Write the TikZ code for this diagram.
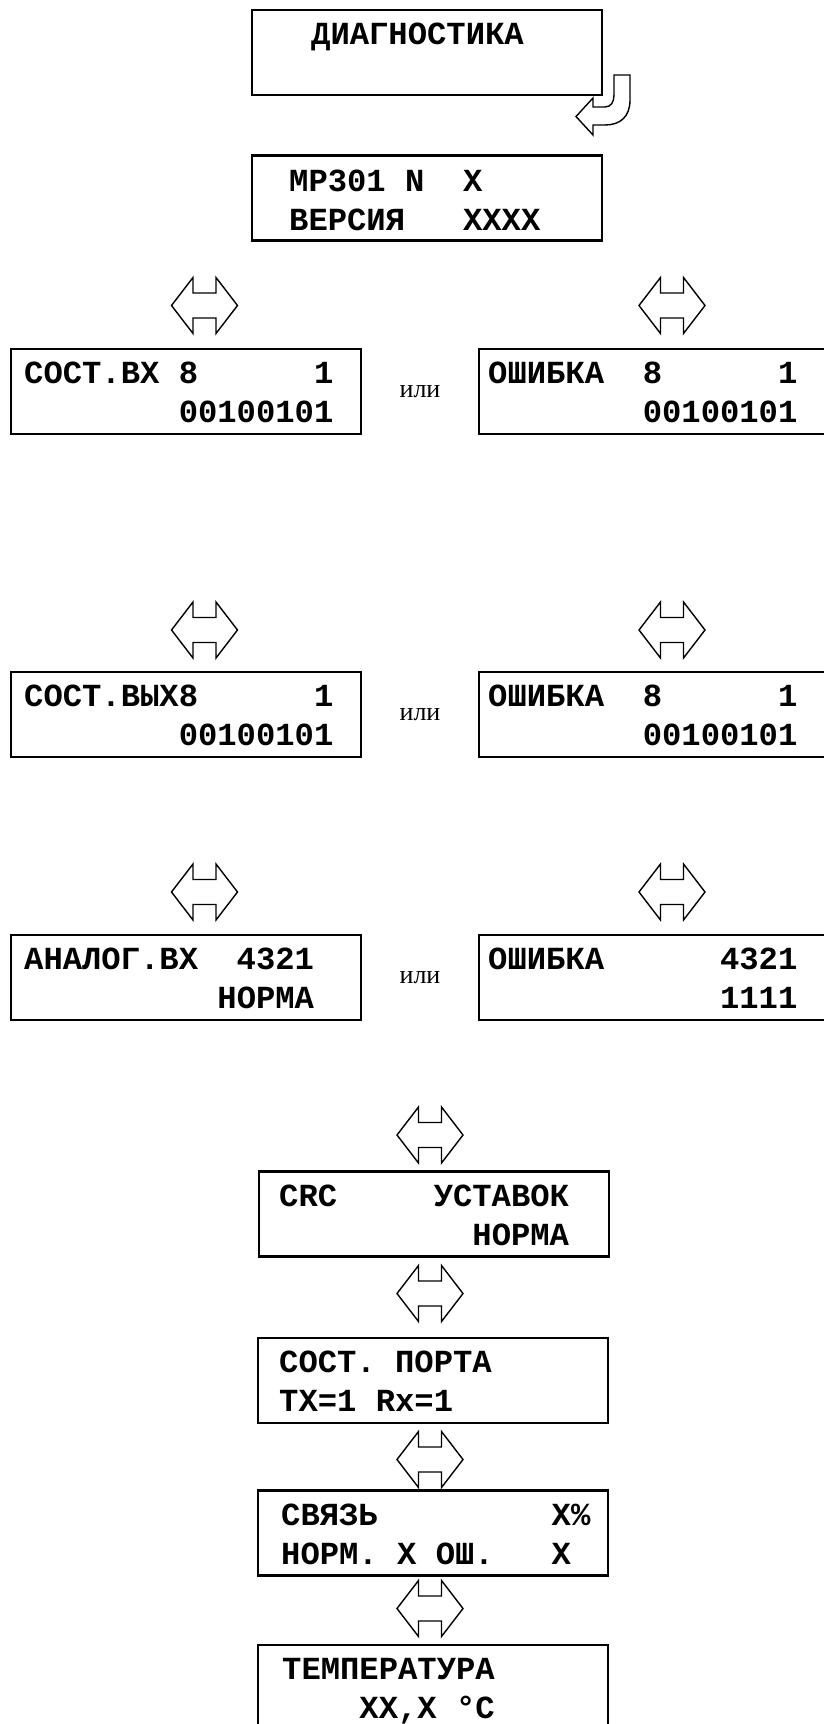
\documentclass[tikz,border=0pt]{standalone}
\usepackage{fontspec}
\setmainfont{Liberation Serif}
\newfontfamily\lcdfont{Liberation Mono}
\usetikzlibrary{calc}
% blank display cells, one column each
\newcommand\gp[1]{\hspace*{\dimexpr#1\fontcharwd\font`0\relax}}

\tikzset{
  screen/.style={draw, line width=1.2pt, minimum width=175pt, minimum height=42.5pt, inner sep=0pt},
  screentext/.style={anchor=base west, inner sep=0pt, text width=175pt, align=left,
    font=\lcdfont\bfseries\fontsize{16.1}{19.5}\selectfont},
  ili/.style={inner sep=0pt, font=\fontsize{13}{15}\selectfont},
  xchg/.pic={
    \draw[line width=0.7pt] (-11.5,-28) -- (-11.5,-12.5) -- (11.5,-12.5) -- (11.5,-28) -- (33,0)
      -- (11.5,28) -- (11.5,12.5) -- (-11.5,12.5) -- (-11.5,28) -- (-33,0) -- cycle;
  }
}

\begin{document}
\begin{tikzpicture}[x=0.5pt, y=-0.5pt]
    \useasboundingbox (0,0) rectangle (824,1724);

    % top of the menu
    \node[screen] (diag) at (427,52.5) {};
    \node[screentext] (diagt) at ($(diag.north west)+(60,36)$) {ДИАГНОСТИКА};
    \draw[line width=0.7pt] (614,75) -- (630,75) -- (630,100) .. controls (630,117) and (620,125) .. (605,125)
        -- (593,125) -- (593,135) -- (576,116.5) -- (593,98) -- (593,107) -- (605,107)
        .. controls (611,107) and (614,102) .. (614,95) -- cycle;

    \node[screen] (mp) at (427,198) {};
    \node[screentext] (mpt) at ($(mp.north west)+(38,37)$) {МР301\gp{1}N\gp{2}Х\\ВЕРСИЯ\gp{3}ХХХХ};

    % discrete inputs / outputs, analog inputs
    \node[screen] (in1) at (186,391.5) {};
    \node[screen] (err1) at (654,391.5) {};
    \node[screen] (out1) at (186,714.5) {};
    \node[screen] (err2) at (654,714.5) {};
    \node[screen] (ai1) at (186,977.5) {};
    \node[screen] (err3) at (654,977.5) {};

    \node[screentext] (in1t) at ($(in1.north west)+(14,36)$) {СОСТ.ВХ\gp{1}8\gp{6}1\\\gp{8}00100101};
    \node[screentext] (err1t) at ($(err1.north west)+(10,36)$) {ОШИБКА\gp{2}8\gp{6}1\\\gp{8}00100101};
    \node[screentext] (out1t) at ($(out1.north west)+(14,36)$) {СОСТ.ВЫХ8\gp{6}1\\\gp{8}00100101};
    \node[screentext] (err2t) at ($(err2.north west)+(10,36)$) {ОШИБКА\gp{2}8\gp{6}1\\\gp{8}00100101};
    \node[screentext] (ai1t) at ($(ai1.north west)+(14,36)$) {АНАЛОГ.ВХ\gp{2}4321\\\gp{10}НОРМА};
    \node[screentext] (err3t) at ($(err3.north west)+(10,36)$) {ОШИБКА\gp{6}4321\\\gp{12}1111};

    \node[ili] (or1) at ($(in1.east)!0.5!(err1.west)$) {или};
    \node[ili] (or2) at ($(out1.east)!0.5!(err2.west)$) {или};
    \node[ili] (or3) at ($(ai1.east)!0.5!(err3.west)$) {или};

    % lower column
    \node[screen] (crc) at (434,1214) {};
    \node[screen] (port) at (433,1380.5) {};
    \node[screen] (link) at (433,1533) {};
    \node[screen] (temp) at (433,1687.5) {};

    \node[screentext] (crct) at ($(crc.north west)+(21,36)$) {CRC\gp{5}УСТАВОК\\\gp{10}НОРМА};
    \node[screentext] (portt) at ($(port.north west)+(22,36)$) {СОСТ.\gp{1}ПОРТА\\TX=1\gp{1}Rx=1};
    \node[screentext] (linkt) at ($(link.north west)+(24,36)$) {СВЯЗЬ\gp{9}Х\%\\НОРМ.\gp{1}Х\gp{1}ОШ.\gp{3}Х};
    \node[screentext] (tempt) at ($(temp.north west)+(25,36)$) {ТЕМПЕРАТУРА\\\gp{4}ХХ,Х\gp{1}°С};

    % exchange arrows
    \foreach \y in {305.5,630,892} {
        \pic at (204.5,\y) {xchg};
        \pic at (672,\y) {xchg};
    }
    \foreach \y in {1135,1293.5,1459.5,1608.5}
        \pic at (430,\y) {xchg};
\end{tikzpicture}
\end{document}
